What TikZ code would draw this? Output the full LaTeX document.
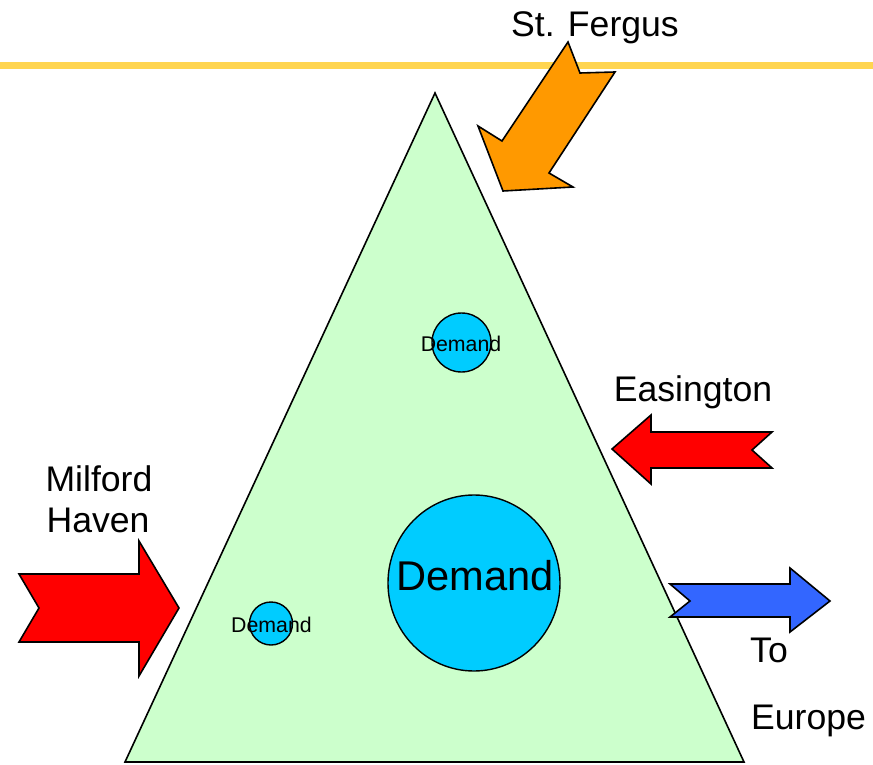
\documentclass[tikz,border=0pt]{standalone}
\usepackage{fontspec}
\usetikzlibrary{shapes.geometric}
\setmainfont{Liberation Sans}
\definecolor{triGreen}{RGB}{204,255,204}
\definecolor{demandBlue}{RGB}{0,204,255}
\definecolor{arrRed}{RGB}{255,0,0}
\definecolor{arrOrange}{RGB}{255,153,0}
\definecolor{arrBlue}{RGB}{51,102,255}
\definecolor{lineGold}{RGB}{255,213,80}
\tikzset{
  outl/.style={draw=black, line width=1.6pt, line join=miter},
  demandc/.style={circle, draw=black, line width=1.4pt, fill=demandBlue, inner sep=0pt},
  lbl/.style={inner sep=0pt, font=\fontsize{35.6}{42}\selectfont, anchor=base},
  dsmall/.style={inner sep=0pt, font=\fontsize{21.3}{24}\selectfont, anchor=base},
  dbig/.style={inner sep=0pt, font=\fontsize{41.6}{48}\selectfont, anchor=base}
}
\begin{document}
\begin{tikzpicture}[x=1pt,y=-1pt]
\useasboundingbox (0,0) rectangle (873,765);
% gold line
\draw[lineGold, line width=7pt] (0,65.5) -- (873,65.5);
% triangle
\draw[outl, fill=triGreen] (435,93) -- (125,762) -- (744,762) -- cycle;
% St. Fergus arrow
\draw[outl, fill=arrOrange] (503,191) -- (573,187) -- (549,173) -- (615,72) -- (580,73) -- (568,42) -- (502,141) -- (478,126) -- cycle;
% Easington arrow
\draw[outl, fill=arrRed] (612,449) -- (651,415) -- (651,432) -- (772,432) -- (752,450) -- (772,468) -- (651,468) -- (651,484) -- cycle;
% Milford Haven arrow
\draw[outl, fill=arrRed] (19,574) -- (139,574) -- (139,541) -- (179,608) -- (139,676) -- (139,642) -- (19,642) -- (39,608) -- cycle;
% To Europe arrow
\draw[outl, fill=arrBlue] (670,584) -- (790,584) -- (790,568) -- (830,601) -- (790,632) -- (790,617) -- (670,617) -- (690,601) -- cycle;
% demand circles
\node[demandc, minimum size=59pt] (c1) at (461.5,342.5) {};
\node[demandc, minimum size=43pt] (c2) at (271,623.5) {};
\node[demandc, ellipse, minimum width=172pt, minimum height=176pt] (c3) at (474,583) {};
\node[dsmall] (t1) at (461,351) {Demand};
\node[dsmall] (t2) at (271.5,632) {Demand};
\node[dbig] (t3) at (475,590) {Demand};
% labels
\node[lbl] (stf) at (595,37) {St. Fergus};
\node[lbl] (eas) at (693,401) {Easington};
\node[lbl] (mil) at (99,491) {Milford};
\node[lbl] (hav) at (98,532) {Haven};
\node[lbl, anchor=base west] (to) at (750,662) {To};
\node[lbl, anchor=base west] (eur) at (751,729) {Europe};
\end{tikzpicture}
\end{document}
